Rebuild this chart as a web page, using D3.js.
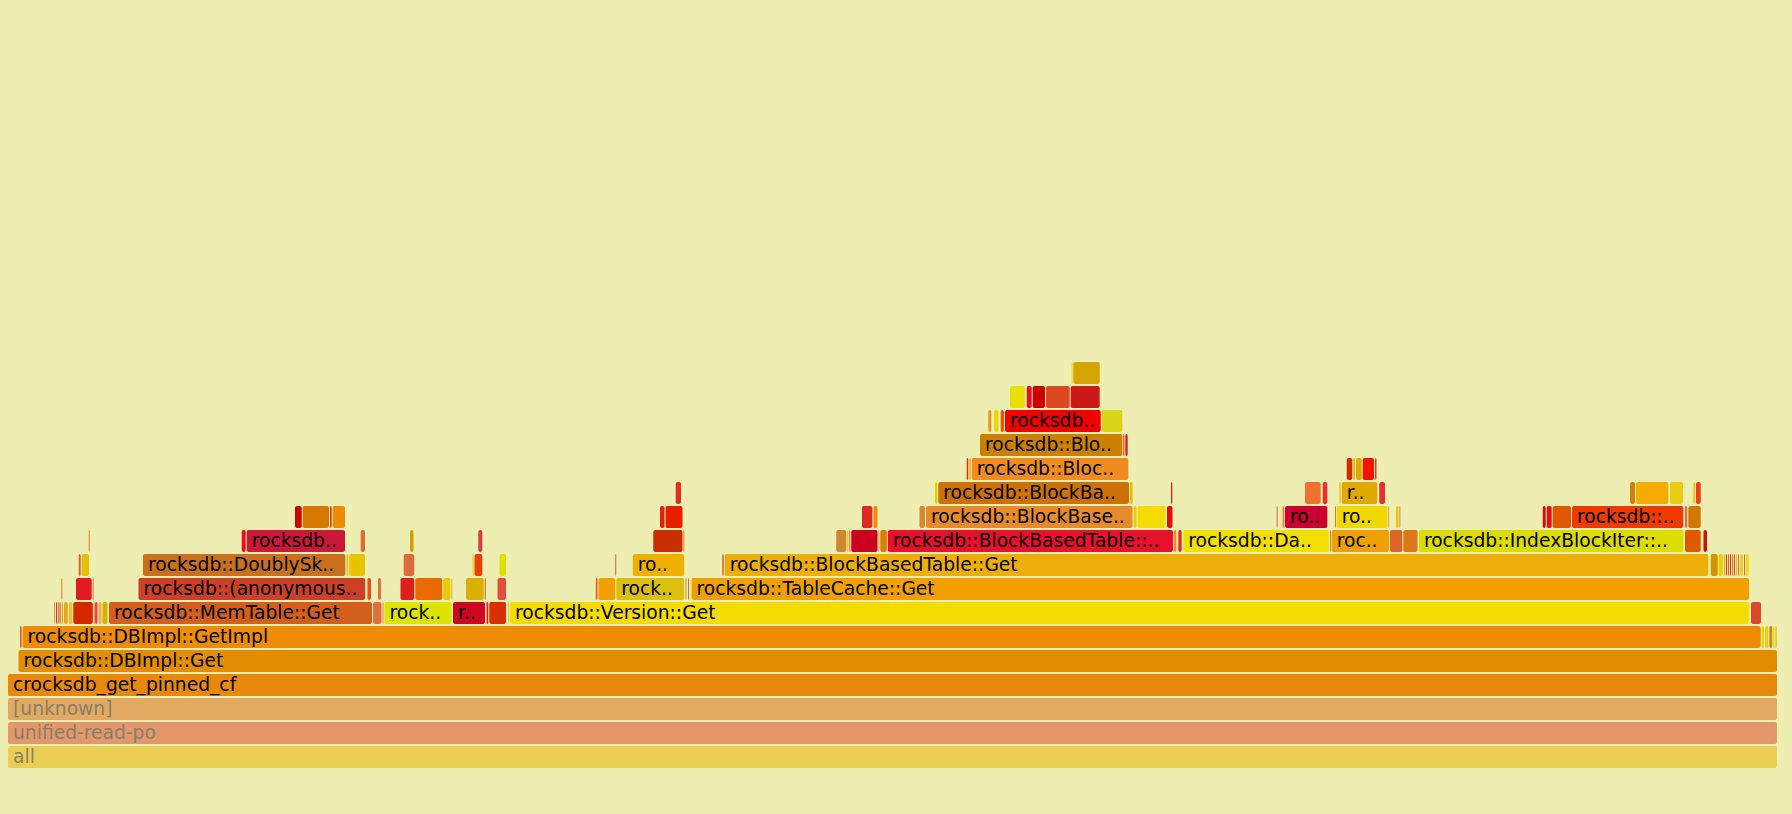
<!DOCTYPE html>
<html>
<head>
<meta charset="utf-8">
<script src="https://cdn.jsdelivr.net/npm/d3@7"></script>
<style>
  body { margin: 0; background: #eeeeb3; }
  .frame text { font-family: Verdana, "DejaVu Sans", sans-serif; font-size: 18.7px; }
</style>
</head>
<body>
<script>
// FLAME GRAPH DATA (samples; one frame = [start, samples, label])

const totalSamples = 1770;

const level0 = [[0, 1770, "all"]];
const level1 = [[0, 1770, "unified-read-po"]];
const level2 = [[0, 1770, "[unknown]"]];
const level3 = [[0, 1770, "crocksdb_get_pinned_cf"]];
const level4 = [[10.5, 1759.5, "rocksdb::DBImpl::Get"]];
const level5 = [
  [12, 2.6], [14.6, 1739.1, "rocksdb::DBImpl::GetImpl"], [1753.7, 3.3], [1757, 4.3],
  [1761.3, 4], [1765.3, 2], [1767.3, 2.5]
];
const level6 = [
  [46, 2], [48, 2], [50, 1.3], [51.3, 2.7], [54, 2], [56, 4.7], [60.7, 4.6], [65.3, 20.5],
  [85.8, 1.2], [87, 3.5], [90.5, 4], [94.5, 6], [101, 264, "rocksdb::MemTable::Get"],
  [365, 9.5], [374.5, 2], [376.5, 68, "rock.."], [445, 33, "r.."], [478.5, 2.8],
  [481.3, 17.7], [500, 2], [502, 1240, "rocksdb::Version::Get"], [1743, 11]
];
const level7 = [
  [53.3, 2], [68, 16.7], [84.7, 1.3], [130.5, 227.7, "rocksdb::(anonymous.."], [359.4, 4.6],
  [370, 4], [392.5, 14.7], [407.2, 28], [435.2, 8.3], [443.5, 1], [458, 18.8], [476.8, 2],
  [489.5, 9.5], [587.8, 2.7], [590.5, 17.7], [608.3, 68.9, "rock.."], [677.5, 2], [680, 2],
  [683.5, 1058.5, "rocksdb::TableCache::Get"]
];
const level8 = [
  [70.7, 3], [73.7, 8.3], [135, 203.3, "rocksdb::DoublySk.."], [338.5, 2.8], [341.3, 16.7],
  [395.7, 11.5], [464.5, 2], [466.5, 8.8], [491.5, 7.5], [607.4, 1.4], [624.8, 52.4, "ro.."],
  [714.3, 2.4], [716.7, 984.6, "rocksdb::BlockBasedTable::Get"], [1702.7, 8], [1710.7, 5.3],
  [1716, 2], [1718, 2], [1720, 2], [1722, 2], [1724, 2], [1726, 2], [1728, 2], [1730, 2],
  [1732, 4], [1736, 1.5], [1737.5, 4.5]
];
const level9 = [
  [80.7, 2], [233.7, 5], [238.7, 99.3, "rocksdb.."], [352.7, 5.3], [402, 4.5], [470.3, 5],
  [645.3, 30.2], [675.5, 1.5], [828.2, 11.1], [839.3, 2], [841.3, 2], [843.3, 27.2],
  [870.5, 1.8], [872.3, 7.5], [879.8, 286.2, "rocksdb::BlockBasedTable::.."], [1166, 3.3],
  [1170.3, 4.4], [1175.3, 146.7, "rocksdb::Da.."], [1322, 1.7], [1323.7, 58.3, "roc.."],
  [1382, 13.3], [1395.3, 15.2], [1410.9, 265.4, "rocksdb::IndexBlockIter::.."],
  [1677, 16.7], [1695.5, 4.5]
];
const level10 = [
  [287, 7.7], [294.7, 27.3], [322, 2.7], [324.7, 13.3], [652, 5.5], [657.5, 18], [854, 11.4],
  [865.4, 5.1], [911.5, 6.5], [918, 207.5, "rocksdb::BlockBase.."], [1125.5, 4], [1129.5, 29],
  [1159, 6.5], [1268.7, 1.6], [1273.7, 1.6], [1275.3, 1.7], [1277, 43.3, "ro.."],
  [1327, 1.7], [1328.7, 51.6, "ro.."], [1380.3, 1.7], [1388, 3.5], [1391.5, 1.5],
  [1534.7, 4], [1538.7, 6], [1544.7, 19.3], [1564, 112.3, "rocksdb::.."], [1677, 3.3],
  [1680.3, 13.4]
];
const level11 = [
  [667.7, 6.3], [927, 3.3], [930.3, 191.7, "rocksdb::BlockBa.."], [1122, 3.5], [1163, 2.3],
  [1297, 16.7], [1314.7, 5.6], [1331.3, 2.4], [1333.7, 36.6, "r.."], [1371.3, 6.7],
  [1622, 6], [1628, 33.3], [1662, 14], [1685.3, 2.7], [1688, 5.7]
];
const level12 = [
  [958.7, 2.6], [961.3, 2.4], [963.7, 157.6, "rocksdb::Bloc.."], [1338.7, 6.6],
  [1345.3, 2.7], [1348, 6.7], [1354.7, 12.3], [1367, 2.5]
];
const level13 = [[972, 143.3, "rocksdb::Blo.."], [1115.3, 2], [1117.3, 3.4]];
const level14 = [[980.3, 4], [986, 5.3], [992.7, 4.3], [997, 96.7, "rocksdb.."], [1093.7, 21.6]];
const level15 = [[1002, 16], [1018.7, 6], [1024.7, 13.3], [1038, 24.7], [1062.7, 30]];
const level16 = [[1063.7, 1.6], [1065.3, 27.4]];

// Frame colours, same order as the frames of each level
const level0Colors = ["#ebcf54"];
const level1Colors = ["#e3976a"];
const level2Colors = ["#e2a962"];
const level3Colors = ["#e8890c"];
const level4Colors = ["#e38e02"];
const level5Colors = ["#e0503a", "#ee8c06", "#f0d400", "#e8cc20", "#d08a10", "#f0d000", "#e8c800"];
const level6Colors = [
  "#e8a020", "#e03020", "#f04060", "#e09020", "#d8a010", "#e0a820", "#e8c030", "#d42800",
  "#e07030", "#e84050", "#e8b050", "#d8b000", "#d2601c", "#e07040", "#e08848", "#dce400",
  "#cc0820", "#e02010", "#d83000", "#e8c800", "#f5dc00", "#dc4a2c"
];
const level7Colors = [
  "#d88030", "#e01c20", "#e05040", "#cc4028", "#e85020", "#e07040", "#dc2020", "#e86a00",
  "#e8cc00", "#d8a030", "#dcb000", "#d06020", "#e05038", "#e06020", "#f0a000", "#dcc010",
  "#d09030", "#e07020", "#f2a000"
];
const level8Colors = [
  "#e06030", "#e8c000", "#c8701c", "#e0c020", "#e8c400", "#dc6c38", "#e8c000", "#e84000",
  "#dce000", "#d84030", "#f0b000", "#e05030", "#eeae0a", "#d49400", "#f0d000", "#e8a020",
  "#e03020", "#e86010", "#d04020", "#e87030", "#e84020", "#e8c010", "#e07030", "#e8d030",
  "#e04040", "#e8e020"
];
const level9Colors = [
  "#d88020", "#e8101c", "#cc1838", "#dc6c38", "#d4a000", "#d04040", "#c83000", "#e06020",
  "#d08830", "#e8c000", "#e06020", "#cc0020", "#e8a000", "#d88000", "#e8102c", "#e89020",
  "#e03020", "#f2e000", "#e06020", "#f0a000", "#dc6428", "#dc7818", "#dcdc00", "#e05800",
  "#cc1010"
];
const level10Colors = [
  "#cc0000", "#d47800", "#cc4020", "#ec8c00", "#e02010", "#e82000", "#e02820", "#f08c10",
  "#d88830", "#e68a2a", "#e8d000", "#f5dc00", "#dc1010", "#e04040", "#e8d000", "#e03030",
  "#cc0030", "#d06010", "#f0d800", "#d89040", "#e8c800", "#e06020", "#cc1010", "#e01020",
  "#e05800", "#ee3c00", "#e07050", "#d07800"
];
const level11Colors = [
  "#e03020", "#e8d000", "#cc7008", "#e0c000", "#e02020", "#f07030", "#e83030", "#e8c800",
  "#e0a800", "#e83030", "#d48010", "#f4ac00", "#e8cc10", "#e8c800", "#e84010"
];
const level12Colors = ["#e03020", "#e8b000", "#f08c20", "#d02c00", "#f0b000", "#e0a800", "#f01400", "#e04020"];
const level13Colors = ["#cc8000", "#e03030", "#e02020"];
const level14Colors = ["#f09020", "#e8d800", "#f05000", "#f00000", "#d8d418"];
const level15Colors = ["#e8e000", "#e0102c", "#cc0000", "#dc4820", "#cc1818"];
const level16Colors = ["#e8d000", "#d4a400"];

const levels = [level0, level1, level2, level3, level4, level5, level6, level7, level8,
  level9, level10, level11, level12, level13, level14, level15, level16];
const levelColors = [level0Colors, level1Colors, level2Colors, level3Colors, level4Colors,
  level5Colors, level6Colors, level7Colors, level8Colors, level9Colors, level10Colors,
  level11Colors, level12Colors, level13Colors, level14Colors, level15Colors, level16Colors];
const fadedDepths = [0, 1, 2];                                                   // Frames drawn with faded labels

// Layout
const width = 1792;
const height = 814;
const margin = {left: 8, right: 14, bottom: 46};
const cellHeight = 24;
const barHeight = 22;

// Flatten the levels into one list of frames
const frames = levels.flatMap((level, depth) => level.map((f, i) => ({
  depth: depth,
  start: f[0],
  value: f[1],
  name: f[2] || "",
  color: levelColors[depth][i]
})));

// Scales
const xScale = d3.scaleLinear()
  .domain([0, totalSamples])
  .range([margin.left, width - margin.right]);

const yScale = d3.scaleLinear()                                                  // depth -> top of the bar
  .domain([0, 1])
  .range([height - margin.bottom - barHeight, height - margin.bottom - barHeight - cellHeight]);

// Svg
const svg = d3.select('body')
  .append('svg')
  .attr('width', width)
  .attr('height', height);

svg.append('rect')
  .attr('width', width)
  .attr('height', height)
  .attr('fill', '#eeeeb3');

const frame = svg.append('g')
  .classed('frames', true)
  .selectAll('g')
  .data(frames)
  .join('g')
  .classed('frame', true)
  .attr('transform', d => 'translate(' + xScale(d.start) + ',' + yScale(d.depth) + ')');

frame.append('rect')
  .attr('width', d => Math.max(xScale(d.start + d.value) - xScale(d.start) - 1, 0.8))
  .attr('height', barHeight)
  .attr('rx', 2)
  .attr('ry', 2)
  .attr('fill', d => d.color);

frame.filter(d => d.name !== "")
  .append('text')
  .attr('x', 5)
  .attr('y', 16.5)
  .attr('fill', d => fadedDepths.includes(d.depth) ? '#86806a' : '#000')
  .text(d => d.name);
</script>
</body>
</html>
